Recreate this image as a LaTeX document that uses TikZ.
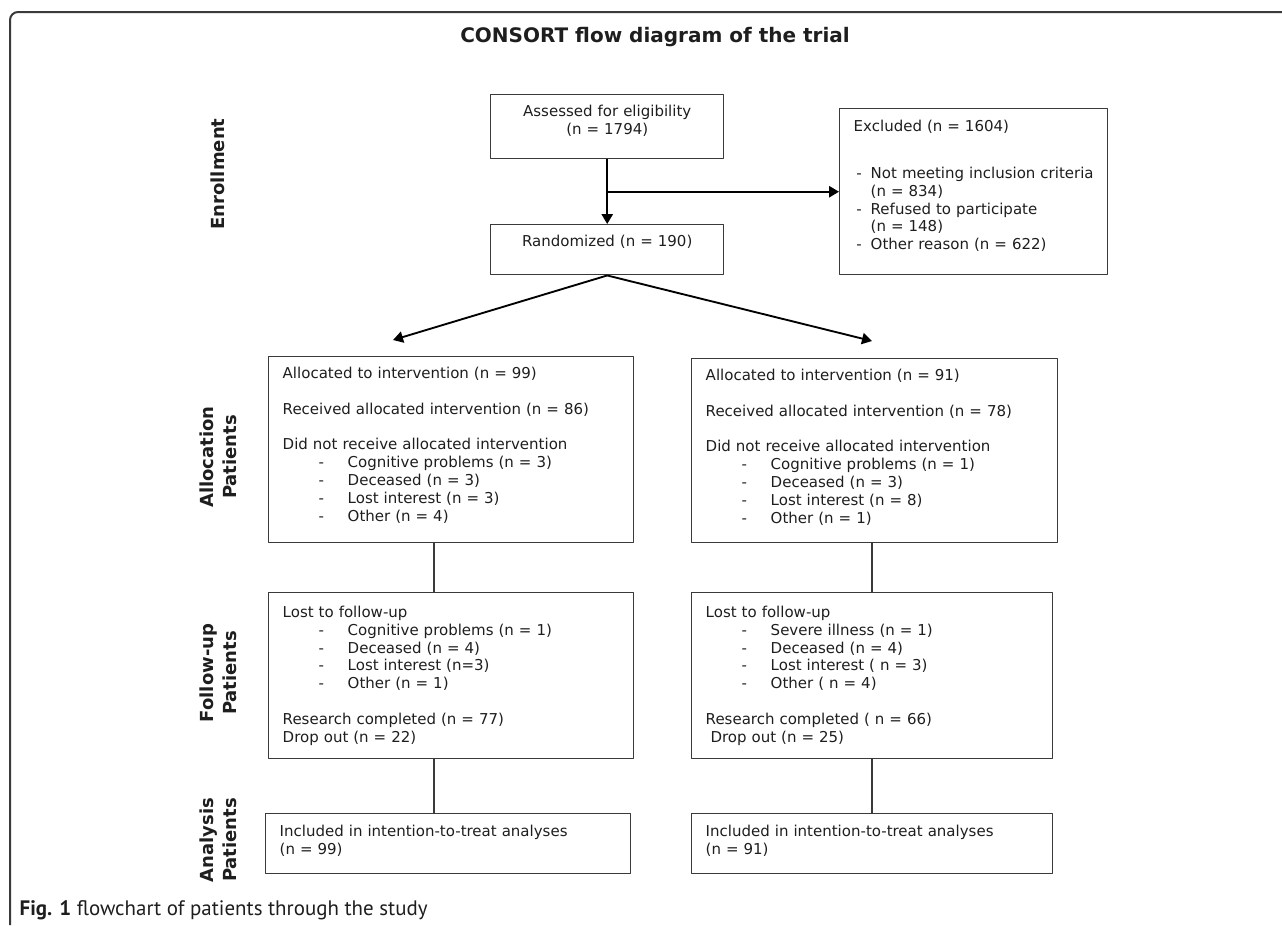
\documentclass[tikz,border=0pt]{standalone}
\usepackage{fontspec}
\setmainfont{DejaVu Sans}
\newfontfamily\capfont{PT Sans}
\usetikzlibrary{arrows.meta}
\definecolor{boxgray}{HTML}{3A3A3A}
\definecolor{inkc}{HTML}{1E1E1E}
\newcommand{\boxfont}{\fontsize{11.25pt}{13.35pt}\selectfont}
\newcommand{\sidefont}{\fontsize{13.5pt}{17.25pt}\selectfont\bfseries}
\newcommand{\bul}[1]{\hspace*{27pt}\makebox[21.75pt][l]{-}#1}
\newcommand{\exbul}[1]{\makebox[12.75pt][l]{\hspace{2pt}-}#1}
\newcommand{\lift}[1]{\rule[-#1]{0pt}{#1}}
\tikzset{
  box/.style={draw=boxgray, line width=1.1pt, anchor=north west, align=left, inner xsep=10.5pt, inner ysep=3pt, font=\boxfont, text=inkc},
  side/.style={rotate=90, align=center, font=\sidefont, text=inkc},
  link/.style={draw=boxgray, line width=1.1pt},
  flow/.style={->, line width=1.4pt, black},
}
\begin{document}
\begin{tikzpicture}[x=0.75pt,y=-0.75pt,line join=round,>={Triangle[length=7.5pt,width=8.5pt]}]
\useasboundingbox (0,0) rectangle (1282,925);
\draw[boxgray, line width=1.5pt, rounded corners=6pt] (10,925) -- (10,12) -- (1282,12);
\node[font=\fontsize{15pt}{18pt}\selectfont\bfseries, text=inkc] (title) at (655,37) {CONSORT flow diagram of the trial};

\node[side] (enroll) at (218,174) {Enrollment};
\node[side] (allocLab) at (218.5,457) {Allocation\\Patients};
\node[side] (fupLab) at (218.5,673) {Follow-up\\Patients};
\node[side] (anaLab) at (218.5,840) {Analysis\\Patients};

\node[box, align=center, text width=153.75pt, minimum height=48pt] (assess) at (490,94) {Assessed for eligibility\\(n = 1794)\lift{10.2pt}};
\node[box, align=center, text width=153.75pt, minimum height=37.5pt] (rand) at (490,224) {Randomized (n = 190)\lift{13.2pt}};
\node[box, text width=180pt, minimum height=124.5pt] (excl) at (839,108) {Excluded (n = 1604)\\[21.9pt]
  \exbul{\mbox{Not meeting inclusion criteria}}\\
  \hspace*{12.75pt}(n = 834)\\
  \exbul{Refused to participate}\\
  \hspace*{12.75pt}(n = 148)\\
  \exbul{Other reason (n = 622)}\lift{10.2pt}};

\node[box, text width=252.75pt, minimum height=139.5pt] (allocL) at (268,356) {Allocated to intervention (n = 99)\\[14pt]
  Received allocated intervention (n = 86)\\[13pt]
  Did not receive allocated intervention\\
  \bul{Cognitive problems (n = 3)}\\
  \bul{Deceased (n = 3)}\\
  \bul{Lost interest (n = 3)}\\
  \bul{Other (n = 4)}\lift{8.7pt}};
\node[box, text width=253.5pt, minimum height=138pt] (allocR) at (691,358) {Allocated to intervention (n = 91)\\[13.5pt]
  Received allocated intervention (n = 78)\\[13.5pt]
  Did not receive allocated intervention\\
  \bul{Cognitive problems (n = 1)}\\
  \bul{Deceased (n = 3)}\\
  \bul{Lost interest (n = 8)}\\
  \bul{Other (n = 1)}\lift{7.2pt}};

\node[box, text width=252.75pt, minimum height=124.5pt] (fupL) at (268,592) {Lost to follow-up\\
  \bul{Cognitive problems (n = 1)}\\
  \bul{Deceased (n = 4)}\\
  \bul{Lost interest (n=3)}\\
  \bul{Other (n = 1)}\\[13.6pt]
  Research completed (n = 77)\\
  Drop out (n = 22)};
\node[box, text width=249.75pt, minimum height=124.5pt] (fupR) at (691,592) {Lost to follow-up\\
  \bul{Severe illness (n = 1)}\\
  \bul{Deceased (n = 4)}\\
  \bul{Lost interest ( n = 3)}\\
  \bul{Other ( n = 4)}\\[13.6pt]
  Research completed ( n = 66)\\
  \hspace*{3.6pt}Drop out (n = 25)};

\node[box, text width=252.75pt, minimum height=45pt] (anaL) at (265,813) {Included in intention-to-treat analyses\\(n = 99)\lift{6pt}};
\node[box, text width=249.75pt, minimum height=45pt] (anaR) at (691,813) {Included in intention-to-treat analyses\\(n = 91)\lift{6pt}};

\coordinate (split) at (assess.south |- excl.west);
\coordinate (tipL) at (393,340);
\coordinate (tipR) at (872,341);
\coordinate (colL) at (434,0);
\coordinate (colR) at (872,0);
\draw[flow] (assess.south) -- (rand.north);
\draw[flow] (split) -- (excl.west);
\draw[flow] (rand.south) -- (tipL);
\draw[flow] (rand.south) -- (tipR);
\draw[link] (allocL.south -| colL) -- (fupL.north -| colL);
\draw[link] (fupL.south -| colL) -- (anaL.north -| colL);
\draw[link] (allocR.south -| colR) -- (fupR.north -| colR);
\draw[link] (fupR.south -| colR) -- (anaR.north -| colR);

\node[anchor=base west, font=\capfont\fontsize{15.7pt}{18pt}\selectfont, text=inkc] (caption) at (15,915) {\textbf{Fig. 1} flowchart of patients through the study};
\end{tikzpicture}
\end{document}
